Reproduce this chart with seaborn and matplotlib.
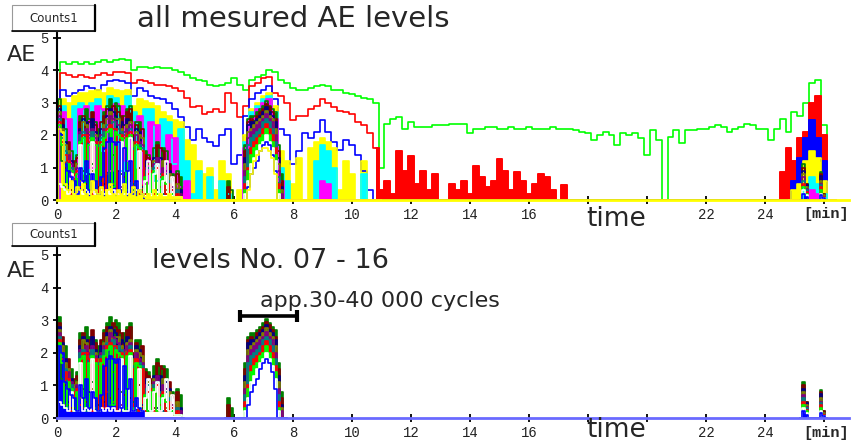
import numpy as np
import matplotlib
matplotlib.use("Agg")
import matplotlib.pyplot as plt
from matplotlib.patches import Rectangle
from matplotlib.lines import Line2D
import seaborn as sns

# ---------------- time grids (minutes) ----------------
t_full = np.round(np.arange(0, 26.41, 0.2), 1)    # 133 points
t_w1 = np.round(np.arange(0, 11.01, 0.2), 1)      # 56 points
t_w2 = np.round(np.arange(24.8, 26.41, 0.2), 1)   # 9 points
t_a = np.round(np.arange(0, 4.31, 0.1), 1)        # 44 points
t_b = np.round(np.arange(5.7, 7.81, 0.1), 1)      # 22 points
t_c = np.round(np.arange(25.2, 26.11, 0.1), 1)    # 10 points

# ---------------- upper AE levels (full record) ----------------
level01_green = [0, 4.25, 4.2, 4.25, 4.2, 4.25, 4.2, 4.25, 4.3, 4.25,
                 4.3, 4.35, 4.3, 4.0, 4.1, 4.1, 4.05, 4.1, 4.05, 4.05,
                 4.0, 3.95, 3.85, 3.75, 3.7, 3.65, 3.55, 3.5, 3.55, 3.6,
                 3.75, 3.55, 3.4, 3.7, 3.8, 3.85, 4.0, 3.95, 3.7, 3.6,
                 3.45, 3.4, 3.4, 3.45, 3.5, 3.55, 3.5, 3.4, 3.4, 3.3,
                 3.25, 3.2, 3.15, 3.1, 3.0, 1.0, 2.35, 2.5, 2.55, 2.2,
                 2.4, 2.25, 2.25, 2.25, 2.3, 2.3, 2.3, 2.35, 2.35, 2.35,
                 2.05, 2.2, 2.2, 2.25, 2.25, 2.2, 2.2, 2.25, 2.2, 2.2,
                 2.25, 2.2, 2.2, 2.2, 2.25, 2.2, 2.2, 2.2, 2.15, 2.1,
                 2.05, 1.85, 2.0, 2.1, 2.0, 1.7, 2.05, 2.0, 2.05, 1.9,
                 1.4, 2.15, 1.85, 0, 1.95, 2.15, 1.75, 2.15, 2.15, 2.2,
                 2.2, 2.25, 2.3, 2.25, 2.1, 2.2, 2.25, 2.35, 2.3, 2.2,
                 2.2, 1.85, 2.2, 2.5, 2.1, 2.7, 2.6, 3.0, 3.6, 3.7,
                 2.3, 0, 0]
level02_red = ([0, 3.9, 3.85, 3.8, 3.85, 3.8, 3.75, 3.85, 3.9, 3.85,
                3.95, 3.95, 3.9, 3.6, 3.7, 3.65, 3.6, 3.55, 3.55, 3.5,
                3.45, 3.35, 3.15, 2.85, 2.9, 2.65, 2.7, 2.8, 2.7, 3.3,
                3.0, 2.55, 2.9, 3.5, 3.6, 3.75, 3.8, 3.3, 3.2, 3.0,
                2.45, 2.6, 2.6, 2.8, 2.9, 3.1, 3.0, 2.85, 2.75, 2.7,
                2.65, 2.4, 2.3, 2.05, 1.6, 0.3, 0.6, 0.2, 1.5, 0.9,
                1.35, 0.5, 0.9, 0.3, 0.8, 0, 0, 0.5, 0.3, 0.6,
                0.2, 1.05, 0.7, 0.4, 0.6, 1.25, 0.9, 0.3, 0.85, 0.6,
                0.2, 0.5, 0.8, 0.7, 0.3, 0, 0.45]
               + [0.0] * 36
               + [0.85, 1.6, 1.2, 1.9, 2.1, 3.0, 3.2, 2.0, 0, 0])
level03_blue = ([0, 3.4, 3.2, 3.3, 3.4, 3.5, 3.45, 3.4, 3.55, 3.65,
                 3.7, 3.65, 3.6, 3.2, 3.45, 3.35, 3.2, 3.15, 3.1, 3.0,
                 2.8, 2.55, 2.25, 1.85, 2.2, 1.9, 1.8, 1.65, 2.0, 2.2,
                 1.1, 1.4, 2.6, 3.1, 3.3, 3.4, 3.5, 3.1, 2.2, 2.0,
                 1.1, 1.5, 2.05, 1.9, 2.1, 2.45, 2.1, 1.8, 1.55, 1.85,
                 1.7, 1.4, 0.9, 0.3]
                + [0.0] * 71
                + [0.6, 1.3, 1.9, 2.45, 1.9, 1.2, 0, 0])

level04_yellow_w1 = [0, 3.1, 3.0, 3.2, 3.3, 3.3, 3.35, 3.4, 3.3, 3.45,
                     3.4, 3.35, 3.4, 2.9, 3.1, 3.05, 3.0, 2.9, 2.7, 2.6,
                     2.45, 2.4, 1.85, 1.7, 1.2, 0.8, 1.0, 0.3, 1.2, 0.8,
                     0, 0.3, 2.0, 2.8, 3.0, 3.2, 3.3, 2.9, 1.5, 1.2,
                     0.5, 1.3, 0, 1.6, 1.8, 1.9, 1.8, 1.6, 0.3, 1.2,
                     0.8, 0, 1.2, 0, 0, 0]
level04_yellow_w2 = [0, 0.3, 0.5, 1.2, 1.5, 1.3, 0.6, 0, 0]
level05_cyan_w1 = [0, 2.9, 1.2, 2.9, 3.0, 0.8, 3.0, 3.1, 1.5, 3.2,
                   3.15, 0.9, 3.2, 2.7, 1.0, 2.8, 2.8, 0.6, 2.5, 2.4,
                   1.1, 2.2, 1.2, 0.2, 0.9, 0, 0.7, 0, 0.6, 0.2,
                   0, 0, 1.8, 2.7, 2.9, 3.1, 3.2, 2.7, 1.0, 0.6,
                   0, 0, 0, 0, 1.2, 1.7, 1.5, 1.0, 0, 0,
                   0, 0, 0.8, 0, 0, 0]
level05_cyan_w2 = [0, 0, 0, 0.4, 0.7, 0.5, 0.2, 0, 0]
level06_magenta_w1 = [0, 2.7, 2.5, 0.7, 2.8, 2.9, 1.0, 2.9, 2.8, 0.9,
                      2.95, 2.9, 1.2, 2.4, 2.6, 0.5, 2.4, 2.3, 0.8, 2.0,
                      1.9, 0.4, 0.6, 0, 0, 0, 0, 0, 0, 0,
                      0, 0, 1.6, 2.5, 2.8, 3.0, 3.1, 2.5, 0.6, 0,
                      0, 0, 0, 0, 0, 0.6, 0.5, 0, 0, 0,
                      0, 0, 0, 0, 0, 0]
level06_magenta_w2 = [0, 0, 0, 0, 0.3, 0.2, 0, 0, 0]

# ---------------- levels No. 07 - 16 ----------------
lev07_a = [0, 3.1, 1.2, 2.2, 0.4, 1.5, 0.3, 1.4, 2.6, 0.9, 2.8, 2.5, 1.1, 2.4, 2.2, 0.6, 2.7, 2.9, 3.1, 1.4,
           3.0, 2.9, 0.8, 2.6, 2.8, 2.9, 0.5, 2.4, 2.4, 0.3, 1.5, 1.4, 0.2, 1.6, 1.8, 0.4, 1.6, 1.5, 0.2, 0.8,
           0.7, 0.9, 0.7, 0]
lev08_a = [0, 2.9, 2.5, 1.0, 1.8, 0.3, 1.2, 1.3, 2.4, 2.6, 0.5, 2.4, 2.7, 2.3, 0.4, 2.4, 2.6, 2.8, 0.6, 2.9,
           2.8, 2.7, 2.6, 0.7, 2.7, 2.8, 2.0, 2.3, 1.0, 2.2, 1.4, 1.3, 1.2, 0.3, 1.7, 1.6, 1.5, 0.2, 1.1, 0.7,
           0.6, 0.8, 0.2, 0]
lev09_a = [0, 2.8, 2.3, 1.8, 0.5, 1.2, 1.0, 0.2, 2.2, 2.5, 2.4, 0.8, 2.5, 2.1, 1.9, 2.2, 0.5, 2.6, 2.8, 2.7,
           2.6, 0.9, 2.4, 2.3, 2.5, 0.6, 1.9, 2.2, 2.1, 0.4, 1.2, 0.2, 1.0, 1.3, 0.3, 1.3, 0.2, 1.1, 0.9, 0.3,
           0.4, 0.2, 0.3, 0]
lev10_a = [0, 2.7, 2.2, 1.7, 1.5, 0.2, 1.0, 1.1, 0.6, 2.4, 2.3, 2.1, 0.9, 2.0, 1.8, 0.3, 2.3, 2.5, 2.7, 0.5,
           2.5, 2.5, 2.2, 0.2, 2.3, 2.4, 1.8, 2.1, 2.0, 1.9, 0.2, 1.1, 1.0, 1.2, 0.2, 0.4, 1.2, 0.3, 0.8, 0.2,
           0.3, 0.5, 0.1, 0]
lev11_a = [0, 2.6, 2.0, 0.4, 1.4, 1.1, 0.2, 1.0, 2.1, 0.3, 2.2, 2.0, 2.2, 1.9, 0.2, 2.0, 2.2, 0.8, 2.6, 2.5,
           2.4, 2.3, 0.4, 2.1, 2.2, 2.3, 0.3, 2.0, 1.8, 1.7, 1.0, 0.2, 0.9, 1.1, 1.3, 0.2, 1.0, 0.9, 0.2, 0.4,
           0.2, 0.3, 0.2, 0]
lev12_a = [0, 2.5, 1.9, 1.5, 0.3, 1.0, 0.9, 0.2, 2.0, 2.1, 0.2, 1.9, 2.1, 0.3, 1.7, 1.9, 2.1, 2.3, 0.4, 2.4,
           0.6, 2.2, 2.1, 2.0, 0.3, 2.2, 1.6, 0.2, 1.7, 1.6, 0.9, 1.0, 0.2, 1.0, 1.1, 0.8, 0.2, 0.8, 0.6, 0.2,
           0.2, 0.3, 0.1, 0]
lev13_a = [0, 2.4, 1.8, 1.4, 1.2, 0.2, 0.8, 0.9, 0.4, 2.0, 2.0, 1.8, 0.2, 1.8, 1.6, 1.8, 0.3, 2.2, 2.3, 2.2,
           2.2, 0.2, 2.0, 1.9, 2.0, 2.1, 1.5, 1.8, 0.2, 1.5, 0.2, 0.8, 0.9, 0.2, 1.0, 0.7, 0.8, 0.2, 0.5, 0.3,
           0.1, 0.2, 0.1, 0]
lev14_a = [0, 2.3, 1.7, 0.3, 1.1, 0.9, 0.2, 0.8, 1.8, 1.9, 0.3, 1.7, 1.9, 1.7, 0.2, 1.7, 1.9, 2.1, 2.2, 0.4,
           2.1, 2.0, 1.9, 0.2, 1.9, 2.0, 0.3, 1.7, 1.6, 0.2, 0.7, 0.2, 0.8, 0.9, 0.2, 0.6, 0.7, 0.5, 0.2, 0.2,
           0.1, 0.1, 0.1, 0]
lev15_a = [0, 0.5, 0.4, 0.3, 0.2, 0.8, 0.2, 0.2, 1.7, 0.2, 0.3, 0.2, 1.8, 0.2, 0.2, 0.3, 0.2, 0.3, 0.2, 0.3,
           0.2, 0.2, 1.8, 0.2, 0.2, 1.9, 0.2, 0.3, 1.5, 0.2, 0.6, 1.2, 0.2, 0.8, 1.1, 0.2, 0.6, 1.2, 0.2, 0.7,
           0.1, 0.1, 0.1, 0]
lev16_a = [0, 2.2, 2.0, 1.1, 0.9, 0.7, 0.6, 0.2, 1.0, 0.6, 1.2, 0.3, 0.8, 0.6, 0.2, 0.7, 1.6, 1.8, 1.9, 1.8,
           1.7, 1.8, 0.3, 1.6, 0.9, 1.2, 0.2, 0.6, 0.3, 0.2, 0, 0, 0, 0, 0, 0, 0, 0, 0, 0,
           0, 0, 0, 0]

lev07_b = [0, 0.6, 0.3, 0, 0, 0, 0, 1.7, 2.5, 2.6, 2.6, 2.7, 2.8, 2.9, 3.05, 2.9, 2.8, 2.7, 1.7, 0.8, 0, 0]
lev08_b = [0, 0.4, 0, 0, 0, 0, 0, 1.5, 2.4, 2.5, 2.4, 2.6, 2.7, 2.8, 2.95, 2.85, 2.7, 2.5, 1.5, 0.6, 0, 0]
lev09_b = [0, 0, 0, 0, 0, 0, 0, 1.3, 2.3, 2.4, 2.4, 2.5, 2.6, 2.7, 2.85, 2.7, 2.6, 2.4, 1.3, 0.4, 0, 0]
lev10_b = [0, 0, 0, 0, 0, 0, 0, 1.1, 2.1, 2.2, 2.3, 2.4, 2.5, 2.6, 2.75, 2.6, 2.5, 2.2, 1.1, 0.3, 0, 0]
lev11_b = [0, 0, 0, 0, 0, 0, 0, 0.9, 1.9, 2.1, 2.2, 2.3, 2.4, 2.5, 2.65, 2.5, 2.4, 2.0, 0.9, 0.2, 0, 0]
lev12_b = [0, 0, 0, 0, 0, 0, 0, 0.7, 1.7, 1.9, 2.0, 2.1, 2.2, 2.4, 2.5, 2.4, 2.2, 1.8, 0.7, 0, 0, 0]
lev13_b = [0, 0, 0, 0, 0, 0, 0, 0.5, 1.0, 1.6, 1.8, 1.9, 2.0, 2.2, 2.35, 2.2, 2.0, 1.6, 0.5, 0, 0, 0]
lev14_b = [0, 0, 0, 0, 0, 0, 0, 0.3, 0.9, 1.4, 1.6, 1.7, 1.9, 2.0, 2.2, 2.0, 1.8, 1.4, 0.3, 0, 0, 0]
lev15_b = [0, 0, 0, 0, 0, 0, 0, 0.2, 0.6, 1.1, 1.3, 1.5, 1.7, 1.8, 2.0, 1.8, 1.6, 1.2, 0.2, 0, 0, 0]
lev16_b = [0, 0, 0, 0, 0, 0, 0, 0, 0.4, 0.8, 1.0, 1.2, 1.5, 1.7, 1.8, 1.7, 1.4, 0.9, 0, 0, 0, 0]

lev07_c = [0, 1.1, 0.5, 0, 0, 0, 0, 0.85, 0.2, 0]
lev08_c = [0, 1.0, 0.5, 0, 0, 0, 0, 0.8, 0.2, 0]
lev09_c = [0, 0.9, 0.45, 0, 0, 0, 0, 0.75, 0.15, 0]
lev10_c = [0, 0.8, 0.4, 0, 0, 0, 0, 0.6, 0.15, 0]
lev11_c = [0, 0.7, 0.35, 0, 0, 0, 0, 0.5, 0.1, 0]
lev12_c = [0, 0.6, 0.3, 0, 0, 0, 0, 0.45, 0.1, 0]
lev13_c = [0, 0.5, 0.25, 0, 0, 0, 0, 0.4, 0.1, 0]
lev14_c = [0, 0.4, 0.2, 0, 0, 0, 0, 0.3, 0.05, 0]
lev15_c = [0, 0.3, 0.15, 0, 0, 0, 0, 0.2, 0.05, 0]
lev16_c = [0, 0.2, 0.1, 0, 0, 0, 0, 0.15, 0.05, 0]

# lowest levels shown only in the "all levels" panel
lev17_a = [0, 2.2, 2.1, 0.5, 0.3, 0.6, 0.2, 0.4, 0.3, 0.5, 0.2, 0.1, 0.6, 0.3, 0.2, 0.4, 0.1, 0.3, 0.5, 0.2,
           0.1, 0.3, 0.2, 0.5, 0.1, 0.2, 0.4, 0.1, 0.3, 0.2, 0.1, 0.2, 0.1, 0.3, 0.1, 0.2, 0.1, 0.1, 0.2, 0.1,
           0.1, 0.1, 0.1, 0]
lev17_b = [0, 0, 0, 0, 0, 0, 0, 0, 0.3, 0.8, 1.2, 1.4, 1.5, 1.6, 1.6, 1.5, 1.3, 0.8, 0, 0, 0, 0]

lower_levels = [
    ("#008000", lev07_a, lev07_b, lev07_c),
    ("#800000", lev08_a, lev08_b, lev08_c),
    ("#000080", lev09_a, lev09_b, lev09_c),
    ("#808000", lev10_a, lev10_b, lev10_c),
    ("#800080", lev11_a, lev11_b, lev11_c),
    ("#008080", lev12_a, lev12_b, lev12_c),
    ("#ff0000", lev13_a, lev13_b, lev13_c),
    ("#00ff00", lev14_a, lev14_b, lev14_c),
    ("#ffffff", lev15_a, lev15_b, lev15_c),
    ("#0000ff", lev16_a, lev16_b, lev16_c),
]

x_ticks = [0, 2, 4, 6, 8, 10, 12, 14, 16, 18, 20, 22, 24, 26]
x_labels = ["0", "2", "4", "6", "8", "10", "12", "14", "16", "", "", "22", "24", ""]
y_ticks = [0, 1, 2, 3, 4, 5]

# ---------------- figure ----------------
sns.set_style("white")
W, H = 851, 445
fig = plt.figure(figsize=(W / 100, H / 100), dpi=100)


def px(x, y):
    return x / W, 1 - y / H


ax1 = fig.add_axes([57 / W, (H - 200) / H, 792 / W, 5.25 * 32.5 / H])
ax2 = fig.add_axes([57 / W, (H - 418) / H, 792 / W, 5.3 * 32.6 / H])

LW = 1.2


def trace(ax, t, v, color, lw=LW):
    sns.lineplot(x=t, y=v, color=color, linewidth=lw, drawstyle="steps-mid",
                 estimator=None, errorbar=None, ax=ax, legend=False)


def area(ax, t, v, color, lw=LW):
    ax.fill_between(np.asarray(t), 0, np.asarray(v, dtype=float), step="mid",
                    color=color, linewidth=0)
    trace(ax, t, v, color, lw)


def draw_lower(ax):
    for col, va, vb, vc in lower_levels:
        area(ax, t_a, va, col)
        if col == "#0000ff":
            trace(ax, t_b, vb, col)
        else:
            area(ax, t_b, vb, col)
        area(ax, t_c, vc, col)


# top panel: all levels
trace(ax1, t_full, level01_green, "#00ff00")
trace(ax1, t_full, level02_red, "#ff0000")
area(ax1, t_full[54:88], level02_red[54:88], "#ff0000")
area(ax1, t_full[122:], level02_red[122:], "#ff0000")
trace(ax1, t_full, level03_blue, "#0000ff")
area(ax1, t_full[124:], level03_blue[124:], "#0000ff")
for tt, yy in ((t_w1, level04_yellow_w1), (t_w2, level04_yellow_w2)):
    area(ax1, tt, yy, "#ffff00")
for tt, yy in ((t_w1, level05_cyan_w1), (t_w2, level05_cyan_w2)):
    area(ax1, tt, yy, "#00ffff")
for tt, yy in ((t_w1, level06_magenta_w1), (t_w2, level06_magenta_w2)):
    area(ax1, tt, yy, "#ff00ff")
draw_lower(ax1)
area(ax1, t_a, lev17_a, "#ffff00")
trace(ax1, t_b, lev17_b, "#ffff00")

# bottom panel: levels 07 - 16
draw_lower(ax2)

mono = "Liberation Mono"
for ax, ytop, base_col in ((ax1, 5.25, "#ffff00"), (ax2, 5.3, "#6a6aff")):
    ax.set_xlim(0, 26.85)
    ax.set_ylim(0, ytop)
    ax.set_xlabel("")
    ax.set_ylabel("")
    ax.set_facecolor("white")
    for s in ("top", "right"):
        ax.spines[s].set_visible(False)
    ax.spines["left"].set_color("black")
    ax.spines["left"].set_linewidth(1.5)
    ax.spines["bottom"].set_color(base_col)
    ax.spines["bottom"].set_linewidth(2.0)
    ax.spines["bottom"].set_zorder(5)
    ax.set_xticks(x_ticks)
    ax.set_xticklabels(x_labels, fontfamily=mono, fontsize=10, color="#222222")
    ax.set_yticks(y_ticks)
    ax.set_yticklabels([str(v) for v in y_ticks], fontfamily=mono, fontsize=10, color="#222222")
    ax.tick_params(axis="x", direction="inout", length=6, width=1.3, color="black", pad=3, bottom=True)
    ax.tick_params(axis="y", direction="inout", length=6, width=1.3, color="black", pad=3, left=True)
    ax.grid(False)

# bracket annotation in the lower panel
ax2.plot([6.2, 8.15], [3.13, 3.13], color="black", lw=2.6, solid_capstyle="butt")
ax2.plot([6.2, 8.15], [3.13, 3.13], ls="none", marker="|", ms=9, mew=3, color="black")

# ---------------- texts ----------------
sans = "DejaVu Sans"
fig.text(*px(293, 27), "all mesured AE levels", fontsize=21, family=sans, ha="center", va="baseline")
fig.text(*px(270, 268), "levels No. 07 - 16", fontsize=19.5, family=sans, ha="center", va="baseline")
fig.text(*px(380, 307), "app.30-40 000 cycles", fontsize=16, family=sans, ha="center", va="baseline")
for yb in (61, 277):
    fig.text(*px(7, yb), "AE", fontsize=16, family=sans, ha="left", va="baseline")
for yb in (226, 437):
    fig.text(*px(616, yb), "time", fontsize=19, family=sans, ha="center", va="baseline")
for yb in (218, 437):
    fig.text(*px(826, yb), "[min]", fontsize=11, family=mono, ha="center", va="baseline",
             fontweight="bold")

# "Counts1" tabs
for (x0, y0, x1, y1) in ((12, 5, 95, 31), (12, 223, 95, 246)):
    fig.patches.append(Rectangle(px(x0, y1), (x1 - x0) / W, (y1 - y0) / H,
                                 transform=fig.transFigure, facecolor="white",
                                 edgecolor="#999999", lw=0.8, zorder=10))
    fig.lines.append(Line2D([x1 / W, x1 / W], [1 - y0 / H, 1 - y1 / H], transform=fig.transFigure,
                            color="black", lw=1.6, zorder=11))
    fig.lines.append(Line2D([x0 / W, x1 / W], [1 - y1 / H, 1 - y1 / H], transform=fig.transFigure,
                            color="black", lw=1.2, zorder=11))
    fig.text(*px((x0 + x1) / 2, (y0 + y1) / 2), "Counts1", fontsize=8.5, family=sans,
             ha="center", va="center", zorder=12)

fig.savefig("out.png", dpi=100)
